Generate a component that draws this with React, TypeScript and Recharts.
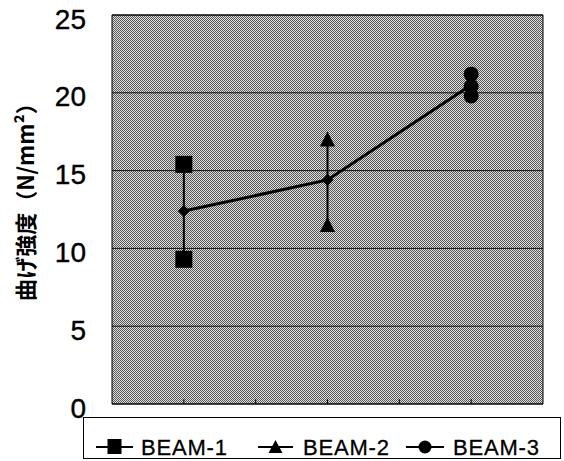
import React from 'react';
import {
  ComposedChart,
  Scatter,
  XAxis,
  YAxis,
  CartesianGrid,
  ReferenceArea,
  Legend,
} from 'recharts';

// bending strength per beam, N/mm2
const beamNames = ['BEAM-1', 'BEAM-2', 'BEAM-3'];
const beamX = [1, 3, 5];
const beam1 = [15.4, 9.3];
const beam2 = [17.0, 11.5];
const beam3 = [21.2, 20.4, 19.8];
const means = [12.4, 14.4, 20.5];

const yTicks = [0, 5, 10, 15, 20, 25];
const xTicks = [1, 2, 3, 4, 5];
const yLabel = '曲げ強度（N/mm²）';

const toPoints = (x: number, vals: number[]) => vals.map((y) => ({ x, y }));
const beam1Data = toPoints(beamX[0], beam1);
const beam2Data = toPoints(beamX[1], beam2);
const beam3Data = toPoints(beamX[2], beam3);
const meanData = means.map((y, i) => ({ x: beamX[i], y }));

const W = 564;
const H = 461;

const Square = ({ cx, cy }: any) => (
  <rect x={cx - 8.5} y={cy - 8.5} width={17} height={17} fill="#000" />
);
const Triangle = ({ cx, cy }: any) => (
  <path d={`M${cx},${cy - 8}L${cx + 7.5},${cy + 7}L${cx - 7.5},${cy + 7}Z`} fill="#000" />
);
const Circle = ({ cx, cy }: any) => <circle cx={cx} cy={cy} r={7.5} fill="#000" />;
const Diamond = ({ cx, cy }: any) => (
  <path d={`M${cx},${cy - 6}L${cx + 6},${cy}L${cx},${cy + 6}L${cx - 6},${cy}Z`} fill="#000" />
);

const YTick = ({ x, y, payload }: any) => (
  <text
    x={x}
    y={y + 4}
    textAnchor="end"
    dominantBaseline="central"
    fontFamily="'Liberation Sans', Arial, sans-serif"
    fontSize={28}
    stroke="#000"
    strokeWidth={0.4}
    fill="#000"
  >
    {payload.value}
  </text>
);

const legendMarkers = [
  (cx: number, cy: number) => <rect x={cx - 7} y={cy - 8} width={14} height={15} fill="#000" />,
  (cx: number, cy: number) => (
    <path d={`M${cx},${cy - 7}L${cx + 7},${cy + 6}L${cx - 7},${cy + 6}Z`} fill="#000" />
  ),
  (cx: number, cy: number) => <circle cx={cx} cy={cy} r={6.5} fill="#000" />,
];
// offsets inside the legend box
const legendSpots = [
  { line: [12, 49], text: 57 },
  { line: [174, 209], text: 219 },
  { line: [322, 360], text: 369 },
];

const LegendBox = () => (
  <div
    style={{
      position: 'relative',
      width: 478,
      height: 42,
      border: '1px solid #000',
      boxSizing: 'border-box',
      background: '#fff',
    }}
  >
    <svg width={478} height={42} style={{ position: 'absolute', left: 0, top: 0, overflow: 'visible' }}>
      {beamNames.map((name, i) => {
        const s = legendSpots[i];
        const cx = (s.line[0] + s.line[1]) / 2;
        const cy = 29;
        return (
          <g key={name}>
            <line x1={s.line[0]} x2={s.line[1]} y1={cy} y2={cy} stroke="#000" strokeWidth={2} />
            {legendMarkers[i](cx, cy)}
            <text
              x={s.text}
              y={cy}
              dominantBaseline="central"
              fontFamily="'Liberation Sans', Arial, sans-serif"
              fontSize={22}
              letterSpacing={0.8}
              stroke="#000"
              strokeWidth={0.3}
              fill="#000"
            >
              {name}
            </text>
          </g>
        );
      })}
    </svg>
  </div>
);

export default function App() {
  return (
    <div style={{ position: 'absolute', left: 0, top: 0, width: W, height: H, background: '#fff' }}>
      <ComposedChart width={W} height={H} margin={{ top: 15, right: 21, bottom: 57, left: 0 }}>
        <defs>
          <pattern id="dither" width={2} height={2} patternUnits="userSpaceOnUse">
            <rect width={2} height={2} fill="#e0e0e0" />
            <rect width={1} height={1} fill="#555" />
            <rect x={1} y={1} width={1} height={1} fill="#555" />
          </pattern>
        </defs>
        <CartesianGrid vertical={false} stroke="#111" strokeWidth={1} fill="url(#dither)" fillOpacity={1} />
        <XAxis
          dataKey="x"
          type="number"
          domain={[0, 6]}
          ticks={xTicks}
          mirror
          tickSize={5}
          tick={() => <g />}
          tickLine={{ stroke: '#000' }}
          axisLine={false}
        />
        <YAxis
          dataKey="y"
          type="number"
          domain={[0, 25]}
          ticks={yTicks}
          width={112}
          tickSize={0}
          tickMargin={26}
          tickLine={false}
          axisLine={false}
          tick={<YTick />}
          label={{
            content: ({ viewBox }: any) => {
              const cx = viewBox.x + 24;
              const cy = viewBox.y + viewBox.height / 2 - 13;
              return (
                <text
                  x={cx}
                  y={cy}
                  transform={`rotate(-90 ${cx} ${cy})`}
                  textAnchor="middle"
                  dominantBaseline="central"
                  fontFamily="'Noto Sans CJK JP', sans-serif"
                  fontWeight="bold"
                  fontSize={22}
                  fill="#000"
                >
                  {yLabel}
                </text>
              );
            },
          }}
        />
        <ReferenceArea x1={0} x2={6} y1={0} y2={25} fill="none" stroke="#000" strokeWidth={1} />
        <Scatter
          data={meanData}
          line={{ stroke: '#000', strokeWidth: 3 }}
          shape={<Diamond />}
          isAnimationActive={false}
          legendType="none"
        />
        <Scatter
          name={beamNames[0]}
          data={beam1Data}
          line={{ stroke: '#000', strokeWidth: 2 }}
          shape={<Square />}
          isAnimationActive={false}
        />
        <Scatter
          name={beamNames[1]}
          data={beam2Data}
          line={{ stroke: '#000', strokeWidth: 2 }}
          shape={<Triangle />}
          isAnimationActive={false}
        />
        <Scatter
          name={beamNames[2]}
          data={beam3Data}
          line={{ stroke: '#000', strokeWidth: 2 }}
          shape={<Circle />}
          isAnimationActive={false}
        />
        <Legend
          layout="horizontal"
          verticalAlign="middle"
          content={() => <LegendBox />}
          wrapperStyle={{ left: 83, top: 417, width: 478, height: 42 }}
        />
      </ComposedChart>
    </div>
  );
}
